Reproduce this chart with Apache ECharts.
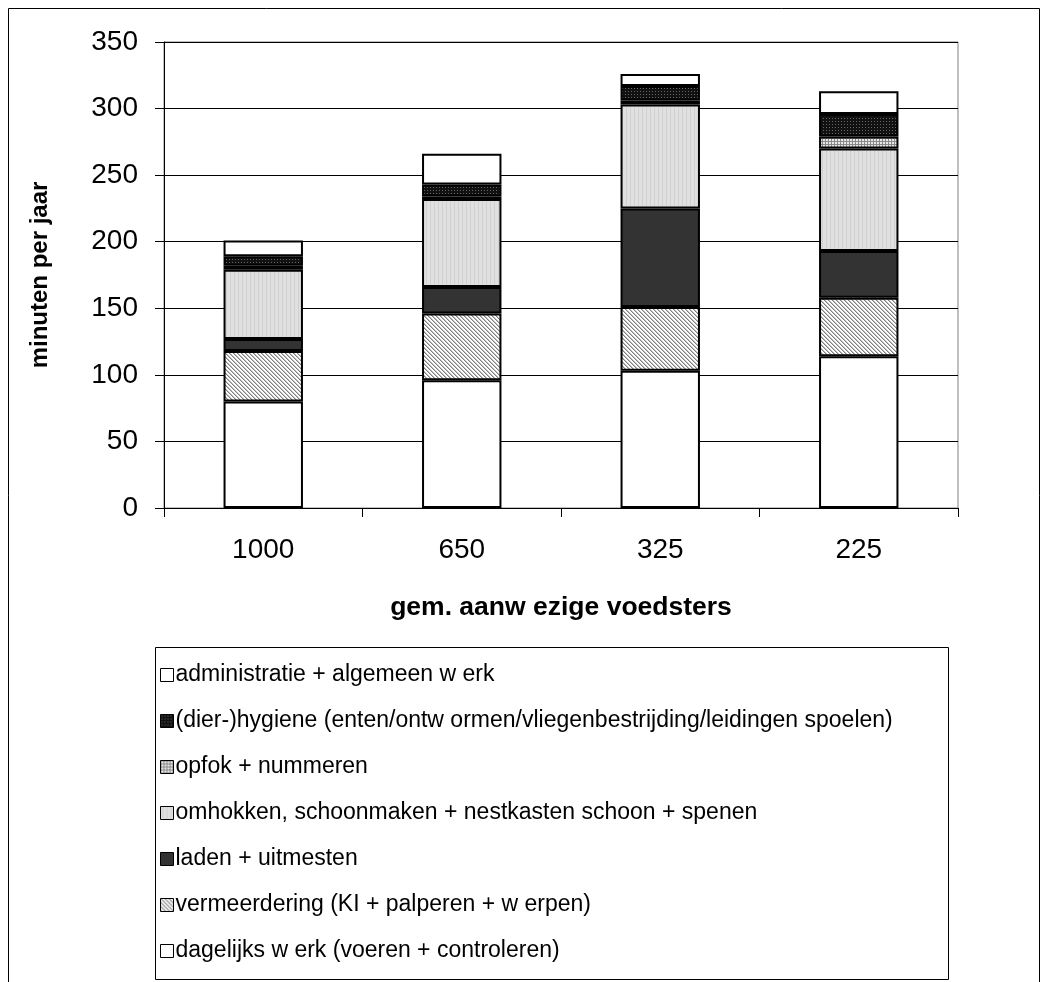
<!DOCTYPE html>
<html>
<head>
<meta charset="utf-8">
<script src="https://cdn.jsdelivr.net/npm/echarts@6/dist/echarts.min.js"></script>
<style>
  html, body { margin: 0; padding: 0; background: #fff; }
  #chart { width: 1047px; height: 982px; }
</style>
</head>
<body>
<div id="chart"></div>
<script>
const categories = ['1000', '650', '325', '225']
const dagelijks = [80, 96, 103, 114]
const vermeerdering = [38, 50, 48, 44]
const laden = [9, 20, 74, 35]
const omhokken = [52, 66, 78, 77]
const opfok = [3, 2, 3, 9]
const hygiene = [7, 9, 11, 17]
const administratie = [12, 23, 9, 17]
const yTicks = [0, 50, 100, 150, 200, 250, 300, 350]

const seriesNames = [
  'dagelijks w erk (voeren + controleren)',
  'vermeerdering (KI + palperen + w erpen)',
  'laden + uitmesten',
  'omhokken, schoonmaken + nestkasten schoon + spenen',
  'opfok + nummeren',
  '(dier-)hygiene (enten/ontw ormen/vliegenbestrijding/leidingen spoelen)',
  'administratie + algemeen w erk'
]
const seriesData = [dagelijks, vermeerdering, laden, omhokken, opfok, hygiene, administratie]

// small canvas tiles to mimic the excel fill patterns
const makeTile = (w, h, draw) => {
  const c = document.createElement('canvas')
  c.width = w
  c.height = h
  draw(c.getContext('2d'))
  return { image: c, repeat: 'repeat' }
}

const hatch = makeTile(4, 4, ctx => {
  ctx.fillStyle = '#ffffff'
  ctx.fillRect(0, 0, 4, 4)
  for (let i = 0; i < 4; i++) {
    ctx.fillStyle = '#808080'
    ctx.fillRect(i, i, 1, 1)
    ctx.fillStyle = '#c0c0c0'
    ctx.fillRect((i + 1) % 4, i, 1, 1)
  }
})
const stripes = makeTile(4, 1, ctx => {
  ctx.fillStyle = '#e0e0e0'
  ctx.fillRect(0, 0, 4, 1)
  ctx.fillStyle = '#d0d0d0'
  ctx.fillRect(2, 0, 1, 1)
})
const grid = makeTile(3, 3, ctx => {
  ctx.fillStyle = '#e8e8e8'
  ctx.fillRect(0, 0, 3, 3)
  ctx.fillStyle = '#888888'
  ctx.fillRect(0, 0, 3, 1)
  ctx.fillRect(0, 0, 1, 3)
})
const dots = makeTile(3, 3, ctx => {
  ctx.fillStyle = '#111111'
  ctx.fillRect(0, 0, 3, 3)
  ctx.fillStyle = '#666666'
  ctx.fillRect(1, 1, 1, 1)
})

const fills = ['#ffffff', hatch, '#333333', stripes, grid, dots, '#ffffff']

const chart = echarts.init(document.getElementById('chart'))

chart.setOption({
  backgroundColor: '#fff',
  animation: false,
  textStyle: { fontFamily: 'Liberation Sans, Arial, sans-serif', color: '#000' },
  graphic: [
    {
      type: 'rect',
      shape: { x: 8.5, y: 8.5, width: 1031, height: 1000 },
      style: { fill: 'none', stroke: '#000', lineWidth: 1 },
      z: -1
    },
    {
      type: 'rect',
      shape: { x: 155.5, y: 647.5, width: 793, height: 332 },
      style: { fill: '#fff', stroke: '#000', lineWidth: 1 },
      z: -1
    }
  ],
  grid: {
    left: 164,
    right: 89,
    top: 42,
    bottom: 474,
    show: true,
    borderColor: '#808080',
    borderWidth: 1
  },
  legend: {
    orient: 'vertical',
    left: 155,
    top: 658,
    itemWidth: 13,
    itemHeight: 13,
    itemGap: 22,
    icon: 'rect',
    data: seriesNames.slice().reverse(),
    itemStyle: { borderColor: '#000', borderWidth: 1 },
    textStyle: {
      fontSize: 23,
      lineHeight: 24,
      color: '#000',
      padding: [0, 0, 0, -3],
      fontFamily: 'Liberation Sans, Arial, sans-serif'
    }
  },
  xAxis: {
    type: 'category',
    data: categories,
    name: 'gem. aanw ezige voedsters',
    nameLocation: 'middle',
    nameGap: 86,
    nameTextStyle: { fontSize: 26.5, fontWeight: 'bold', color: '#000' },
    axisLine: { lineStyle: { color: '#000', width: 1 } },
    axisTick: { show: true, length: 9, lineStyle: { color: '#000' } },
    axisLabel: { fontSize: 28, color: '#000', margin: 28 }
  },
  yAxis: {
    type: 'value',
    min: 0,
    max: 350,
    interval: 50,
    name: 'minuten per jaar',
    nameLocation: 'middle',
    nameGap: 112,
    nameRotate: 90,
    nameTextStyle: { fontSize: 24, fontWeight: 'bold', color: '#000' },
    axisLine: { show: true, lineStyle: { color: '#000', width: 1 } },
    axisTick: { show: true, length: 9, lineStyle: { color: '#000' } },
    axisLabel: {
      fontSize: 28,
      color: '#000',
      margin: 26,
      formatter: v => (yTicks.includes(v) ? String(v) : '')
    },
    splitLine: { show: true, lineStyle: { color: '#000', width: 1 } }
  },
  series: seriesNames.map((name, i) => ({
    name,
    type: 'bar',
    stack: 'total',
    barWidth: '40%',
    data: seriesData[i],
    itemStyle: { color: fills[i], borderColor: '#000', borderWidth: 2 },
    emphasis: { disabled: true }
  }))
})
</script>
</body>
</html>
